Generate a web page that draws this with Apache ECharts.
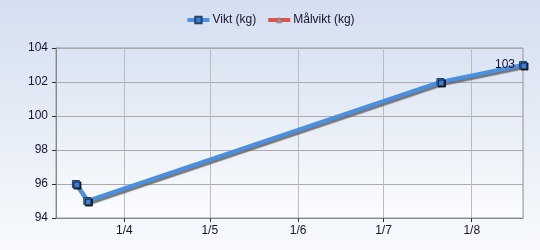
<!DOCTYPE html>
<html><head><meta charset="utf-8">
<script src="https://cdn.jsdelivr.net/npm/echarts@6/dist/echarts.min.js"></script>
<style>html,body{margin:0;padding:0;}#c{width:540px;height:250px;}</style>
</head><body><div id="c"></div>
<script>
const dates = ['2024-03-15','2024-03-19','2024-07-21','2024-08-19'];
const vikt = [96, 95, 102, 103];
const malvikt = [];
const xMin = '2024-03-08';
const xMax = '2024-08-19';
const yTicks = [94, 96, 98, 100, 102, 104];

const chart = echarts.init(document.getElementById('c'), null, {renderer:'canvas'});
const font = 'Liberation Sans';
chart.setOption({
  animation:false,
  backgroundColor:{type:'linear',x:0,y:0,x2:0,y2:1,colorStops:[{offset:0,color:'#d4dff0'},{offset:1,color:'#f8fafd'}]},
  legend:{top:9,left:'center',itemWidth:22,itemHeight:8,itemGap:10,
    lineStyle:{width:4},
    textStyle:{fontFamily:font,fontSize:12,color:'#1a1030',padding:[0,0,0,-2]},
    data:['Vikt (kg)','Målvikt (kg)']},
  grid:{left:56,right:17,top:48,bottom:32,show:true,borderColor:'#999',borderWidth:1,
    backgroundColor:{type:'linear',x:0,y:0,x2:0,y2:1,colorStops:[{offset:0,color:'#d9e3f2'},{offset:1,color:'#fbfcfe'}]}},
  xAxis:{type:'time',min:xMin,max:xMax,splitNumber:5,
    axisLine:{lineStyle:{color:'#888'}},
    axisTick:{show:true,length:4,lineStyle:{color:'#333'}},
    splitLine:{show:true,lineStyle:{color:'#bbb'}},
    axisLabel:{showMinLabel:false,showMaxLabel:false,fontFamily:font,fontSize:12,color:'#1a1030',margin:7,
      formatter:function(v){const d=new Date(v);return d.getDate()+'/'+(d.getMonth()+1);}}},
  yAxis:{type:'value',min:yTicks[0],max:yTicks[yTicks.length-1],interval:2,
    axisLine:{show:true,lineStyle:{color:'#888'}},
    axisTick:{show:true,length:4,lineStyle:{color:'#333'}},
    splitLine:{show:true,lineStyle:{color:'#aaa'}},
    axisLabel:{fontFamily:font,fontSize:12,color:'#1a1030',margin:8}},
  series:[
    {name:'Vikt (kg)',type:'line',data:dates.map((d,i)=>[d,vikt[i]]),
      symbol:'rect',symbolSize:7,
      lineStyle:{color:'#4a8fe0',width:4,shadowColor:'rgba(90,90,90,0.8)',shadowOffsetX:2,shadowOffsetY:2,shadowBlur:1},
      itemStyle:{color:'#3d7fd6',borderColor:'#23446e',borderWidth:1,shadowColor:'rgba(0,0,0,0.8)',shadowOffsetX:1.5,shadowOffsetY:1.5},
      color:'#4a8fe0',
      label:{show:true,position:'left',distance:4,fontFamily:font,fontSize:12,color:'#1a1030',
        formatter:function(p){return p.dataIndex===vikt.length-1?String(p.value[1]):'';}}},
    {name:'Målvikt (kg)',type:'line',data:malvikt,color:'#d9534f',symbol:'triangle',symbolSize:6,
      lineStyle:{color:'#d9534f',width:4,shadowColor:'rgba(90,90,90,0.8)',shadowOffsetX:2,shadowOffsetY:2},
      itemStyle:{color:'#9a8a8a'}}
  ]
});
</script></body></html>
